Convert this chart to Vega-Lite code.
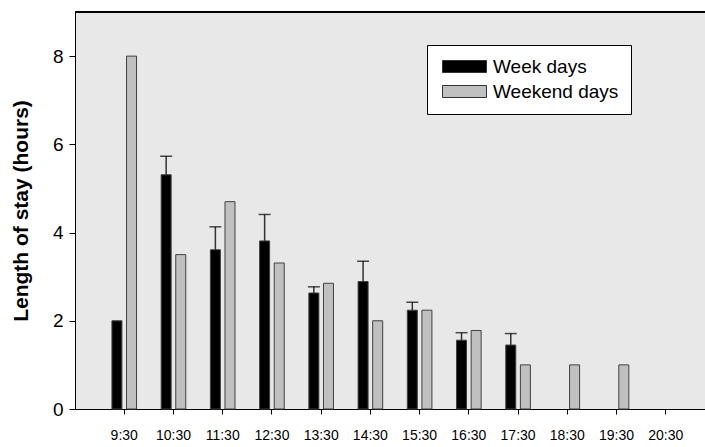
{
  "$schema": "https://vega.github.io/schema/vega-lite/v6.json",
  "width": 630,
  "height": 397,
  "autosize": {"type": "none"},
  "padding": {"left": 75, "top": 12, "right": 0, "bottom": 38},
  "background": "white",
  "config": {
    "view": {"fill": "#e8e8e8", "stroke": null},
    "font": "Liberation Sans"
  },
  "data": {
    "values": [
      {"time": "9:30", "days": "Week days", "hours": 2.0, "upper": null},
      {"time": "10:30", "days": "Week days", "hours": 5.31, "upper": 5.73},
      {"time": "11:30", "days": "Week days", "hours": 3.61, "upper": 4.13},
      {"time": "12:30", "days": "Week days", "hours": 3.81, "upper": 4.41},
      {"time": "13:30", "days": "Week days", "hours": 2.63, "upper": 2.77},
      {"time": "14:30", "days": "Week days", "hours": 2.89, "upper": 3.35},
      {"time": "15:30", "days": "Week days", "hours": 2.24, "upper": 2.42},
      {"time": "16:30", "days": "Week days", "hours": 1.56, "upper": 1.73},
      {"time": "17:30", "days": "Week days", "hours": 1.45, "upper": 1.71},
      {"time": "9:30", "days": "Weekend days", "hours": 8.0, "upper": null},
      {"time": "10:30", "days": "Weekend days", "hours": 3.5, "upper": null},
      {"time": "11:30", "days": "Weekend days", "hours": 4.7, "upper": null},
      {"time": "12:30", "days": "Weekend days", "hours": 3.31, "upper": null},
      {"time": "13:30", "days": "Weekend days", "hours": 2.85, "upper": null},
      {"time": "14:30", "days": "Weekend days", "hours": 2.0, "upper": null},
      {"time": "15:30", "days": "Weekend days", "hours": 2.24, "upper": null},
      {"time": "16:30", "days": "Weekend days", "hours": 1.78, "upper": null},
      {"time": "17:30", "days": "Weekend days", "hours": 1.0, "upper": null},
      {"time": "18:30", "days": "Weekend days", "hours": 1.0, "upper": null},
      {"time": "19:30", "days": "Weekend days", "hours": 1.0, "upper": null}
    ]
  },
  "layer": [
    {
      "mark": {"type": "bar", "stroke": "#404040", "strokeWidth": 1},
      "encoding": {
        "x": {
          "field": "time",
          "type": "nominal",
          "sort": null,
          "scale": {
            "domain": ["9:30", "10:30", "11:30", "12:30", "13:30", "14:30", "15:30", "16:30", "17:30", "18:30", "19:30", "20:30"],
            "range": [0, 640],
            "paddingInner": 0,
            "paddingOuter": 0.5
          },
          "axis": {
            "title": null,
            "labelAngle": 0,
            "labelFontSize": 14,
            "labelColor": "black",
            "labelPadding": 14,
            "tickSize": 5,
            "tickColor": "black",
            "domainColor": "black",
            "grid": false
          }
        },
        "xOffset": {
          "field": "days",
          "type": "nominal",
          "scale": {"domain": ["Week days", "Weekend days"], "paddingInner": 0.315, "paddingOuter": 0.843}
        },
        "y": {
          "field": "hours",
          "type": "quantitative",
          "scale": {"domain": [0, 9], "nice": false},
          "axis": {
            "title": "Length of stay (hours)",
            "titleFontSize": 21,
            "titleFontWeight": "bold",
            "titleColor": "black",
            "titlePadding": 21,
            "values": [0, 2, 4, 6, 8],
            "labelFontSize": 19,
            "labelColor": "black",
            "labelPadding": 6,
            "tickSize": 6,
            "tickColor": "black",
            "domainColor": "black",
            "grid": false
          }
        },
        "color": {
          "field": "days",
          "type": "nominal",
          "scale": {"domain": ["Week days", "Weekend days"], "range": ["#000000", "#c0c0c0"]},
          "legend": {
            "title": null,
            "orient": "none",
            "legendX": 352,
            "legendY": 33,
            "symbolType": "M-1,-1H6.333V1H-1Z",
            "symbolSize": 144,
            "symbolStrokeColor": "#333333",
            "symbolStrokeWidth": 1,
            "symbolOpacity": 1,
            "labelFont": "Liberation Sans",
            "labelFontSize": 19,
            "labelColor": "black",
            "labelOffset": 35,
            "fillColor": "white",
            "strokeColor": "black",
            "padding": 12,
            "rowPadding": 5
          }
        }
      }
    },
    {
      "transform": [{"filter": "datum.upper != null"}],
      "mark": {"type": "rule", "color": "#333333", "strokeWidth": 1.5},
      "encoding": {
        "x": {"field": "time", "type": "nominal", "sort": null},
        "xOffset": {"field": "days", "type": "nominal"},
        "y": {"field": "hours", "type": "quantitative"},
        "y2": {"field": "upper"}
      }
    },
    {
      "transform": [{"filter": "datum.upper != null"}],
      "mark": {"type": "tick", "color": "black", "thickness": 1.5, "size": 12, "orient": "horizontal"},
      "encoding": {
        "x": {"field": "time", "type": "nominal", "sort": null},
        "xOffset": {"field": "days", "type": "nominal"},
        "y": {"field": "upper", "type": "quantitative"}
      }
    },
    {
      "mark": {"type": "rule", "color": "black", "strokeWidth": 1.5},
      "encoding": {
        "y": {"datum": 9, "type": "quantitative"}
      }
    }
  ]
}
